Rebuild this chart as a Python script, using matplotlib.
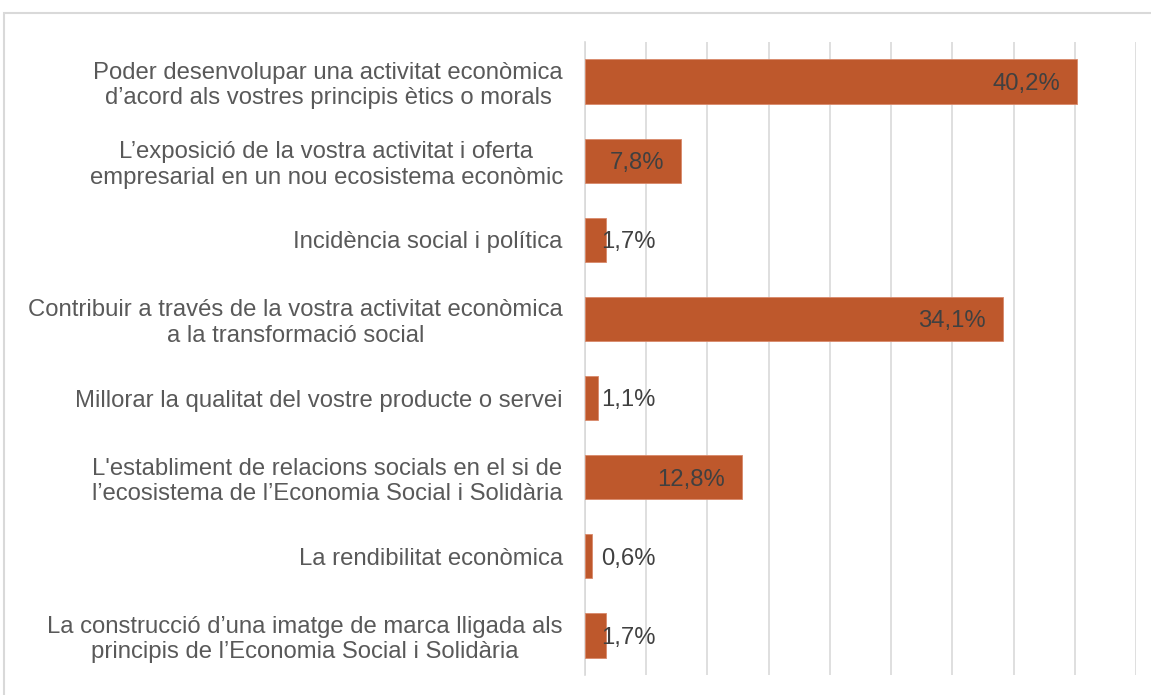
import matplotlib
matplotlib.use("Agg")
import matplotlib.pyplot as plt
from matplotlib.patches import Rectangle

categories = [
    "Poder desenvolupar una activitat econòmica\nd’acord als vostres principis ètics o morals",
    "L’exposició de la vostra activitat i oferta\nempresarial en un nou ecosistema econòmic",
    "Incidència social i política",
    "Contribuir a través de la vostra activitat econòmica\na la transformació social",
    "Millorar la qualitat del vostre producte o servei",
    "L'establiment de relacions socials en el si de\nl’ecosistema de l’Economia Social i Solidària",
    "La rendibilitat econòmica",
    "La construcció d’una imatge de marca lligada als\nprincipis de l’Economia Social i Solidària",
]
values = [40.2, 7.8, 1.7, 34.1, 1.1, 12.8, 0.6, 1.7]
value_labels = ["40,2%", "7,8%", "1,7%", "34,1%", "1,1%", "12,8%", "0,6%", "1,7%"]

plt.rcParams['font.family'] = ['Liberation Sans', 'DejaVu Sans']

W, H = 1151, 695
fig = plt.figure(figsize=(W / 100, H / 100), dpi=100)
ax = fig.add_axes([585 / W, 1 - 675 / H, (1136 - 585) / W, (675 - 42) / H])

ypos = list(range(len(categories)))
ax.barh(ypos, values, height=0.56, color="#BE582C", edgecolor="#D9896A", linewidth=0.6, zorder=3)
ax.set_ylim(len(categories) - 0.5, -0.5)
ax.set_xlim(0, 45)
ax.set_xticks(range(0, 46, 5))
ax.set_xticklabels([])
ax.tick_params(axis='x', length=0)
ax.grid(axis='x', color="#D9D9D9", linewidth=1.2, zorder=0)
for s in ["top", "right", "bottom"]:
    ax.spines[s].set_visible(False)
ax.spines["left"].set_color("#D9D9D9")
ax.spines["left"].set_linewidth(1.2)
ax.set_yticks(ypos)
ax.set_yticklabels(categories, fontsize=17.2, color="#595959", multialignment="center", linespacing=1.2)
ax.tick_params(axis='y', length=0, pad=16)

pad = 1.35
for y, v, lab in zip(ypos, values, value_labels):
    if v > 5:
        ax.text(v - pad, y + 0.03, lab, ha="right", va="center", fontsize=17.2, color="#404040", zorder=4)
    else:
        ax.text(pad, y + 0.03, lab, ha="left", va="center", fontsize=17.2, color="#404040", zorder=4)

fig.patches.append(Rectangle((4 / W, -0.1), 1.2, 1.1 - 13 / H, transform=fig.transFigure,
                             fill=False, edgecolor="#D9D9D9", linewidth=1.5))

fig.savefig("out.png", dpi=100, facecolor="white")
